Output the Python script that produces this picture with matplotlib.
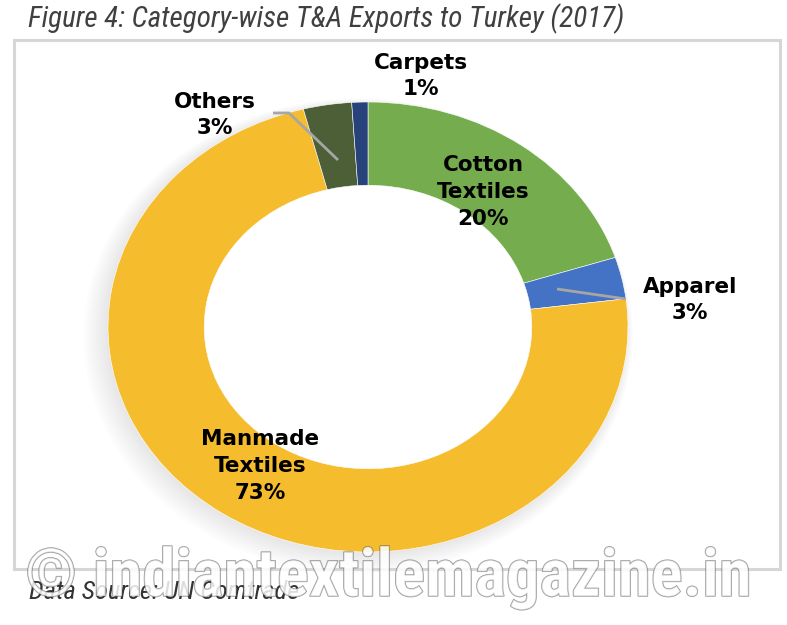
import matplotlib
matplotlib.use("Agg")
import matplotlib.pyplot as plt
import matplotlib.patheffects as pe
from matplotlib.patches import Rectangle, Ellipse
from matplotlib import font_manager

# data (clockwise from 12 o'clock)
categories = ["Cotton\nTextiles", "Apparel", "Manmade\nTextiles", "Others", "Carpets"]
shares = [20, 3, 73, 3, 1]
colors = ["#75AC4E", "#4472C4", "#F5BC2E", "#4C5F36", "#27437A"]

W, H = 787, 625
fig = plt.figure(figsize=(W / 100, H / 100), dpi=100)

# pixel helpers (top-left origin) for the ellipse-shaped donut
cx, cy, rx, ry = 368, 327, 260, 225


def fx(px):
    return px / W


def fy(py):
    return 1 - py / H


def dx(px):
    return (px - cx) / rx


def dy(py):
    return (cy - py) / ry


# narrow font if there is one
names = {f.name for f in font_manager.fontManager.ttflist}
narrow = [n for n in ["Liberation Sans Narrow", "Roboto Condensed", "Open Sans Condensed"] if n in names]
narrow = narrow + ["DejaVu Sans"]

# border box
fig.patches.append(Rectangle((fx(14), fy(569)), fx(780) - fx(14), fy(40) - fy(569),
                             transform=fig.transFigure, fill=False,
                             edgecolor="#D6D6D6", linewidth=2.2))

ax = fig.add_axes([fx(cx - rx), fy(cy + ry), 2 * rx / W, 2 * ry / H])

# soft shadow
for i in range(8):
    sh = Ellipse((-0.010 - i * 0.004, -0.012 - i * 0.004), 2 + i * 0.016, 2 + i * 0.016,
                 facecolor="#000000", alpha=0.012, edgecolor="none", clip_on=False, zorder=0)
    ax.add_patch(sh)
ax.add_patch(Ellipse((0, 0), 1.3, 1.3, facecolor="white", edgecolor="none", zorder=1))

wedges, _ = ax.pie(shares, colors=colors, startangle=90, counterclock=False,
                   radius=1, wedgeprops=dict(width=0.37, edgecolor="white", linewidth=0.4))
for w in wedges:
    w.set_clip_on(False)
    w.set_zorder(2)
ax.set_xlim(-1, 1)
ax.set_ylim(-1, 1)
ax.set_aspect("auto")
ax.axis("off")

# leader lines
ax.plot([dx(273), dx(289), dx(338)], [dy(113), dy(113), dy(160)], color="#A6A6A6",
        lw=2, clip_on=False, zorder=4, solid_capstyle="butt")
ax.plot([dx(557), dx(626)], [dy(289), dy(299)], color="#A6A6A6", lw=2,
        clip_on=False, zorder=4, solid_capstyle="butt")

lab_font = dict(fontsize=15.5, fontweight="bold", color="black", ha="center",
                va="center", linespacing=1.42, family="DejaVu Sans", zorder=5)
label_pos = [(483, 192), (690, 300), (260, 466), (215, 115), (421, 76)]
for name, val, (px, py) in zip(categories, shares, label_pos):
    ax.text(dx(px), dy(py), f"{name}\n{val}%", **lab_font)

fig.text(fx(28), fy(19), "Figure 4: Category-wise T&A Exports to Turkey (2017)",
         fontsize=21, style="italic", stretch="condensed", color="#404040",
         ha="left", va="center", family=narrow)

fig.text(fx(29), fy(592), "Data Source: UN Comtrade", fontsize=19, style="italic",
         stretch="condensed", color="#333333", ha="left", va="center", family=narrow)

# watermark over the bottom of the figure
wm = fig.text(fx(25), fy(578), "\u00a9 indiantextilemagazine.in", fontsize=48,
              fontweight="bold", stretch="condensed", color="white", alpha=0.6,
              ha="left", va="center", family=narrow, zorder=10)
wm.set_path_effects([pe.Stroke(linewidth=1.0, foreground="#555555"), pe.Normal()])

fig.savefig("out.png", dpi=100)
